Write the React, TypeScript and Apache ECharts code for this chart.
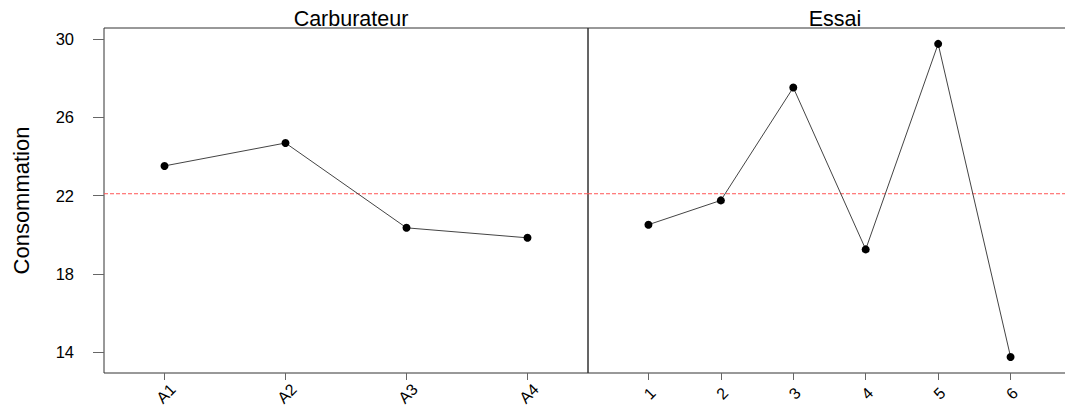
import React, { useEffect, useRef } from "react";
import * as echarts from "echarts";

const leftCategories = ["A1", "A2", "A3", "A4"];
const leftValues = [23.51, 24.68, 20.35, 19.84];
const rightCategories = ["1", "2", "3", "4", "5", "6"];
const rightValues = [20.51, 21.75, 27.51, 19.25, 29.74, 13.76];
const grandMean = 22.09;
const yTicks = [14, 18, 22, 26, 30];
const panelTitles = ["Carburateur", "Essai"];
const yAxisTitle = "Consommation";

const FONT = "'Liberation Sans', Arial, sans-serif";

export default function App() {
  const ref = useRef<HTMLDivElement>(null);
  useEffect(() => {
    if (!ref.current) return;
    const chart = echarts.init(ref.current, undefined, { renderer: "svg" });
    const leftTickVals = leftCategories.map((_, i) => i + 1);
    const rightTickVals = rightCategories.map((_, i) => i + 1);
    const yMin = 12.94;
    const yMax = 30.55;
    const xRanges = [
      [0.5, 4.5],
      [0.166, 6.834],
    ];

    const xAxisBase = (gridIndex: number, vals: number[], cats: string[]) => ({
      gridIndex,
      type: "value",
      min: xRanges[gridIndex][0],
      max: xRanges[gridIndex][1],
      splitLine: { show: false },
      axisLine: { show: false },
      axisTick: { show: true, customValues: vals, length: 7, lineStyle: { color: "#666", width: 1 } },
      axisLabel: {
        show: true,
        customValues: vals,
        rotate: 45,
        align: "center",
        verticalAlign: "middle",
        margin: 22,
        fontSize: 16,
        color: "#000",
        fontFamily: FONT,
        padding: [0, 0, 0, 4],
        formatter: (v: number) => cats[Math.round(v) - 1] ?? "",
      },
    });

    const lineSeries = (idx: number, data: number[]) => ({
      type: "line",
      xAxisIndex: idx,
      yAxisIndex: idx,
      data: data.map((v, i) => [i + 1, v]),
      symbol: "circle",
      symbolSize: 8,
      itemStyle: { color: "#000" },
      lineStyle: { color: "#444", width: 1 },
      z: 3,
    });

    const meanSeries = (idx: number) => ({
      type: "line",
      xAxisIndex: idx,
      yAxisIndex: idx,
      data: [
        [xRanges[idx][0], grandMean],
        [xRanges[idx][1], grandMean],
      ],
      symbol: "none",
      silent: true,
      lineStyle: { color: "#ff5555", type: [4, 2], width: 1 },
      itemStyle: { color: "#ff5555" },
      z: 2,
    });

    const gridBase = {
      top: 28,
      height: 345,
      show: true,
      borderColor: "#333",
      borderWidth: 1,
      containLabel: false,
      outerBoundsMode: "none",
    };

    chart.setOption({
      animation: false,
      backgroundColor: "#fff",
      title: [
        {
          text: panelTitles[0],
          left: 346,
          top: 3,
          textAlign: "center",
          textStyle: { fontSize: 21.5, fontWeight: "normal", color: "#000", fontFamily: FONT },
        },
        {
          text: panelTitles[1],
          left: 830,
          top: 3,
          textAlign: "center",
          textStyle: { fontSize: 21.5, fontWeight: "normal", color: "#000", fontFamily: FONT },
        },
      ],
      grid: [
        { ...gridBase, left: 104, width: 484 },
        { ...gridBase, left: 588, width: 483 },
      ],
      xAxis: [
        xAxisBase(0, leftTickVals, leftCategories),
        xAxisBase(1, rightTickVals, rightCategories),
      ],
      yAxis: [
        {
          gridIndex: 0,
          type: "value",
          min: yMin,
          max: yMax,
          splitLine: { show: false },
          axisLine: { show: false },
          axisTick: { show: true, customValues: yTicks, length: 11, lineStyle: { color: "#666" } },
          axisLabel: {
            customValues: yTicks,
            margin: 30,
            fontSize: 16.5,
            color: "#000",
            fontFamily: FONT,
          },
          name: yAxisTitle,
          nameLocation: "middle",
          nameGap: 72,
          nameTextStyle: { fontSize: 22, color: "#000", fontFamily: FONT },
        },
        {
          gridIndex: 1,
          type: "value",
          min: yMin,
          max: yMax,
          splitLine: { show: false },
          axisLine: { show: false },
          axisTick: { show: false },
          axisLabel: { show: false },
        },
      ],
      series: [meanSeries(0), meanSeries(1), lineSeries(0, leftValues), lineSeries(1, rightValues)],
    });
    return () => chart.dispose();
  }, []);
  return (
    <div
      ref={ref}
      style={{ position: "absolute", left: 0, top: 0, width: 1065, height: 409, background: "#fff" }}
    />
  );
}
